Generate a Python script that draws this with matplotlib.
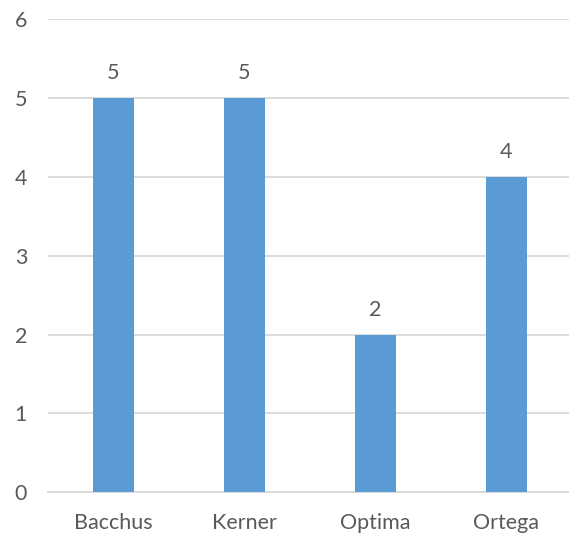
import matplotlib
matplotlib.use("Agg")
import matplotlib.pyplot as plt

categories = ["Bacchus", "Kerner", "Optima", "Ortega"]
values = [5, 5, 2, 4]
y_ticks = [0, 1, 2, 3, 4, 5, 6]

plt.rcParams["font.family"] = ["Lato", "DejaVu Sans"]
text_color = "#595959"
bar_color = "#5B9BD5"
grid_color = "#D9D9D9"
font_size = 15.5

fig = plt.figure(figsize=(5.69, 5.38), dpi=100)
ax = fig.add_axes([48 / 569, 45.7 / 538, 524 / 569, 473.1 / 538])

x = list(range(len(categories)))
bars = ax.bar(x, values, width=0.313, color=bar_color, zorder=3)

ax.set_xlim(-0.5, len(categories) - 0.5)
ax.set_ylim(0, 6)
ax.set_yticks(y_ticks)
ax.set_xticks(x)
ax.set_xticklabels(categories)

ax.grid(axis="y", color=grid_color, linewidth=1.3, zorder=0)
for side in ["top", "right", "left"]:
    ax.spines[side].set_visible(False)
ax.spines["bottom"].set_color(grid_color)
ax.spines["bottom"].set_linewidth(1.3)

ax.tick_params(axis="both", length=0, labelsize=font_size, colors=text_color)
ax.tick_params(axis="y", pad=15)
ax.tick_params(axis="x", pad=15)

for rect, v in zip(bars, values):
    ax.annotate(str(v), (rect.get_x() + rect.get_width() / 2, v),
                xytext=(0, 10.5), textcoords="offset points",
                ha="center", va="bottom", fontsize=font_size, color=text_color)

fig.savefig("out.png", dpi=100, facecolor="white")
